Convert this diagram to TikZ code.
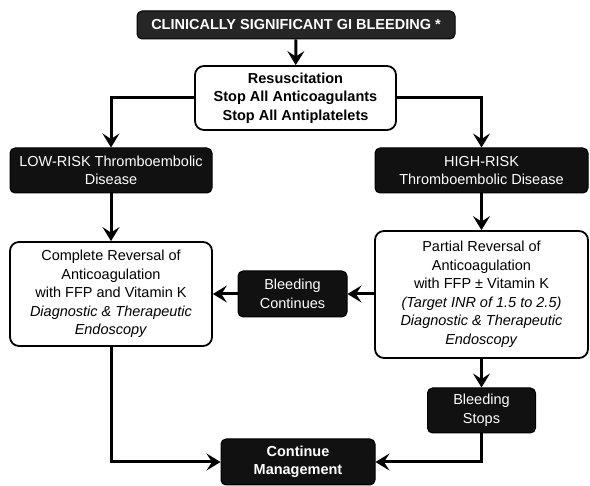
\documentclass[tikz,border=0pt]{standalone}
\usepackage{fontspec}
\setmainfont{Liberation Sans}
\usetikzlibrary{arrows.meta}
\definecolor{darkbox}{HTML}{111111}
\definecolor{topbox}{HTML}{262626}
\tikzset{
  darknode/.style={draw=black, line width=1pt, fill=darkbox, text=white, rounded corners=5pt, align=center, inner sep=0pt, font=\fontsize{14.5}{18.5}\selectfont},
  whitenode/.style={draw=black, line width=1.8pt, fill=white, text=black, rounded corners=9pt, align=center, inner sep=0pt, font=\fontsize{14.5}{18.5}\selectfont},
  conn/.style={line width=3pt, -{Stealth[length=14pt,width=17pt,inset=5.5pt]}},
}
\begin{document}
\begin{tikzpicture}[x=1pt,y=-1pt]
\useasboundingbox (0,0) rectangle (590,486);
\node[darknode, fill=topbox, minimum width=318pt, minimum height=28pt, font=\bfseries\fontsize{14.5}{18.5}\selectfont] (top) at (296,25) {CLINICALLY SIGNIFICANT GI BLEEDING *};
\node[whitenode, minimum width=201pt, minimum height=64pt, font=\bfseries\fontsize{14.5}{18.5}\selectfont] (resus) at (295.5,98) {Resuscitation\\Stop All Anticoagulants\\Stop All Antiplatelets};
\node[darknode, minimum width=202pt, minimum height=45pt] (low) at (111,170.5) {LOW-RISK Thromboembolic\\Disease};
\node[darknode, minimum width=213pt, minimum height=45pt] (high) at (481.5,170.5) {HIGH-RISK\\Thromboembolic Disease};
\node[whitenode, minimum width=202pt, minimum height=104pt] (complete) at (111,294) {Complete Reversal of\\Anticoagulation\\with FFP and Vitamin K\\\textit{Diagnostic \& Therapeutic}\\\textit{Endoscopy}};
\node[whitenode, minimum width=213pt, minimum height=127pt] (partial) at (481.5,294.5) {Partial Reversal of\\Anticoagulation\\with FFP ± Vitamin K\\\textit{(Target INR of 1.5 to 2.5)}\\\textit{Diagnostic \& Therapeutic}\\\textit{Endoscopy}};
\node[darknode, minimum width=109pt, minimum height=46pt] (cont) at (292.5,294) {Bleeding\\Continues};
\node[darknode, minimum width=108pt, minimum height=45pt] (stops) at (481.5,410.5) {Bleeding\\Stops};
\node[darknode, minimum width=154pt, minimum height=46pt, font=\bfseries\fontsize{14.5}{18.5}\selectfont] (mgmt) at (298,462) {Continue\\Management};
\draw[conn] (top) -- (resus);
\draw[conn] (resus.west) -| (low.north);
\draw[conn] (resus.east) -| (high.north);
\draw[conn] (low) -- (complete);
\draw[conn] (high) -- (partial);
\draw[conn] (partial.west |- cont.east) -- (cont.east);
\draw[conn] (cont.west) -- (complete.east |- cont.west);
\draw[conn] (partial.south -| stops.north) -- (stops.north);
\draw[conn] (complete.south) |- (mgmt.west);
\draw[conn] (stops.south) |- (mgmt.east);
\end{tikzpicture}
\end{document}
